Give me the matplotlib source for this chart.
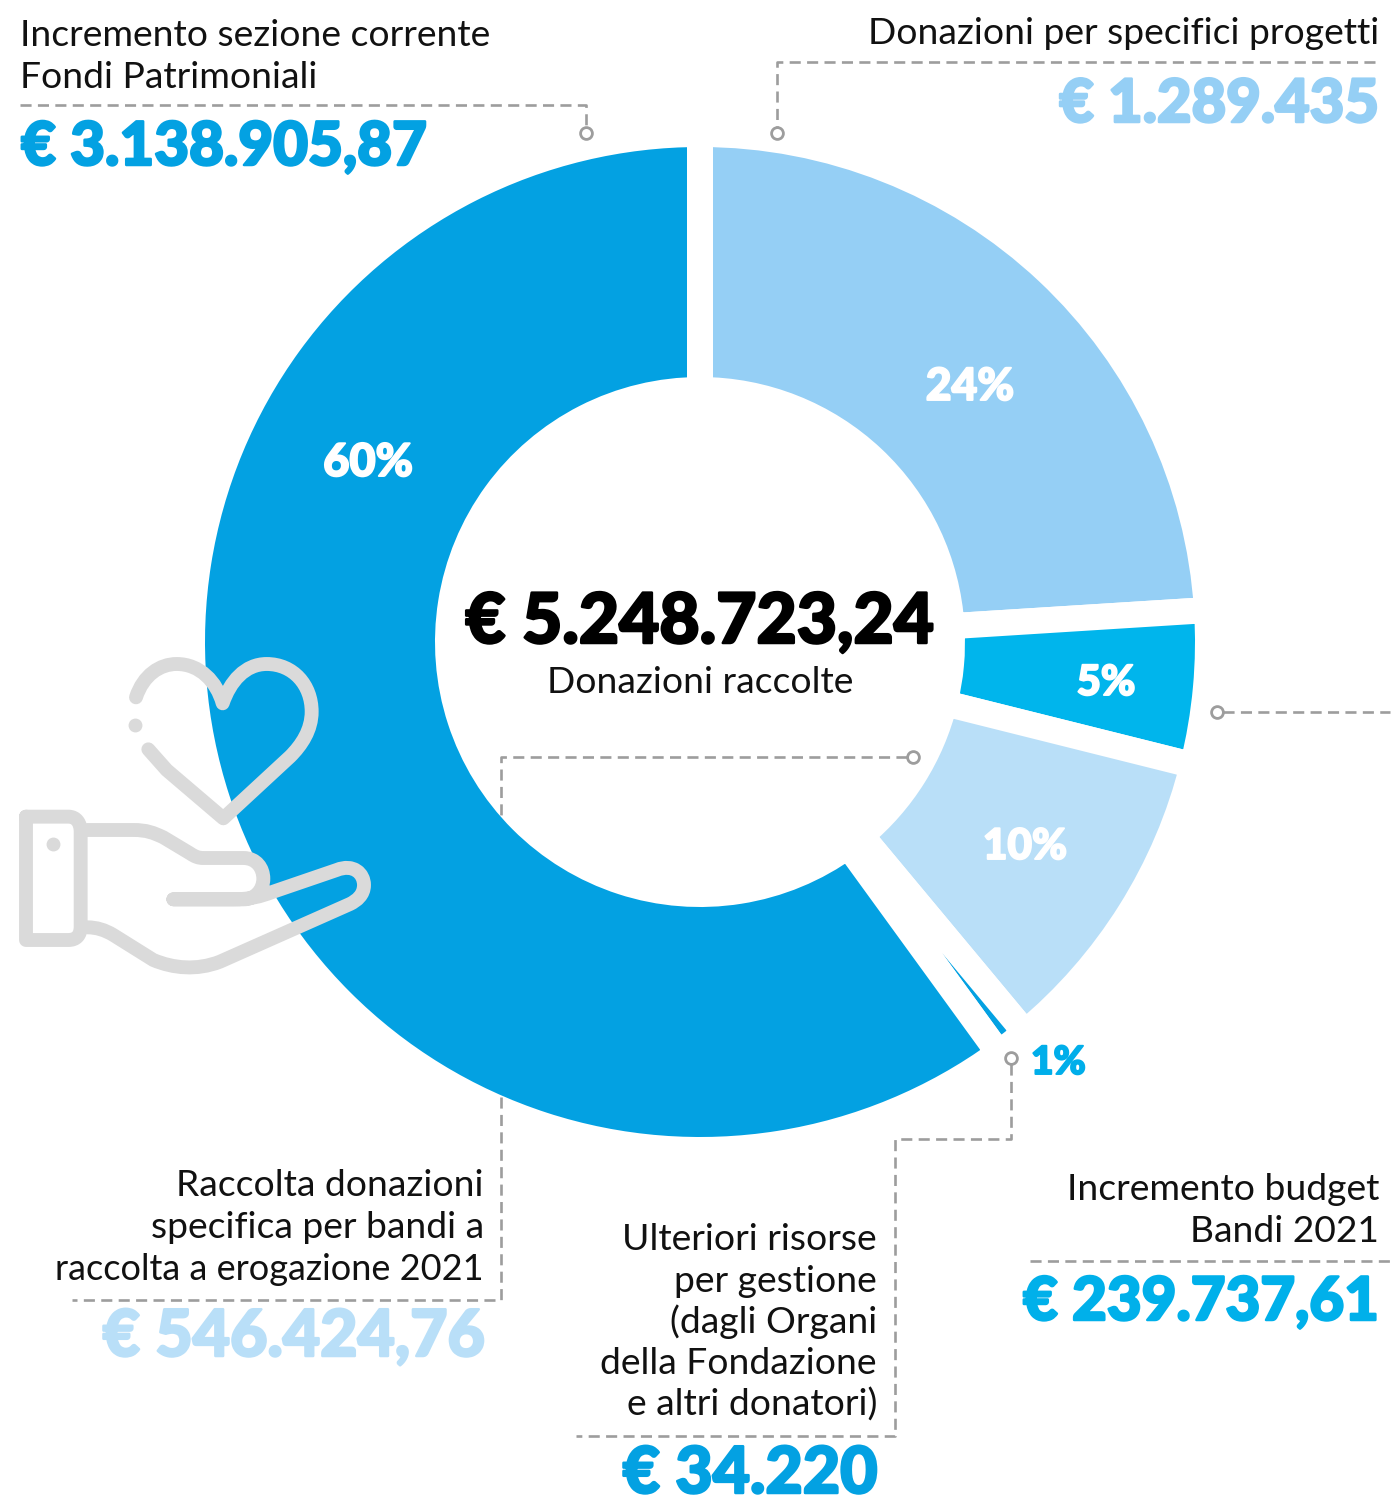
# -*- coding: utf-8 -*-
import matplotlib
matplotlib.use("Agg")
import matplotlib.pyplot as plt
import matplotlib.patheffects as pe
from matplotlib.path import Path
from matplotlib.patches import PathPatch

plt.rcParams['font.family'] = ['Lato', 'DejaVu Sans']

# parts of the ring, clockwise from the top
shares = [24, 4.9, 10.05, 1.05, 60]
share_labels = ["24%", "5%", "10%", "1%", "60%"]
ring_colors = ["#95cff5", "#00b5ec", "#b9dff8", "#03a1e2", "#03a1e2"]

total_text = "€ 5.248.723,24"
total_label = "Donazioni raccolte"
amount_texts = ["€ 3.138.905,87", "€ 1.289.435", "€ 239.737,61", "€ 546.424,76", "€ 34.220"]

GREY = "#9d9d9d"
ICON = "#dadada"
TXT = "#111111"
CX, CY = 700, 642
R_OUT, R_IN = 495, 265
GAP = 26

fig = plt.figure(figsize=(13.92, 14.96), dpi=100)
ax = fig.add_axes([0, 0, 1, 1])

# white edge gives the parallel gaps
ax.pie(shares, radius=R_OUT + GAP / 2, center=(CX, CY), startangle=-90,
       counterclock=True, colors=ring_colors,
       wedgeprops=dict(width=R_OUT - R_IN + GAP, edgecolor="white",
                       linewidth=GAP * 0.72))
ax.set_xlim(0, 1392)
ax.set_ylim(1496, 0)
ax.axis("off")


def leader(xs, ys):
    ax.plot(xs, ys, color=GREY, lw=1.9, dashes=(4.2, 2.4), zorder=5,
            solid_joinstyle="miter", dash_capstyle="butt")


def ring_dot(x, y):
    ax.plot([x], [y], "o", ms=8.5, mfc="white", mec=GREY, mew=2.0, zorder=6)


def body(x, y, s, ha="left", fs=26.8):
    ax.text(x, y, s, ha=ha, va="baseline", fontsize=fs, color=TXT, zorder=7)


# heavy look: Lato bold with a thin outline of the same colour
def heavy(x, y, s, col, ha, fs, lw):
    t = ax.text(x, y, s, ha=ha, va="baseline", fontsize=fs, color=col,
                fontweight="black", zorder=7)
    t.set_path_effects([pe.withStroke(linewidth=lw, foreground=col)])


def big(x, y, s, col, ha="left", fs=43):
    heavy(x, y, s, col, ha, fs, 1.8)


# leader lines
leader([20, 586, 586], [105, 105, 127])
ring_dot(586, 133)
leader([1375, 777, 777], [62, 62, 127])
ring_dot(777, 133)
leader([1223, 1390], [712, 712])
ring_dot(1217, 712)
leader([1030, 1390], [1261, 1261])
leader([1011, 1011, 895, 895, 576], [1064, 1139, 1139, 1436, 1436])
ring_dot(1011, 1058)
leader([907, 501, 501], [757, 757, 815])
ring_dot(913, 757)
leader([501, 501, 72], [1097, 1300, 1300])

# texts
body(20, 46, "Incremento sezione corrente")
body(20, 88, "Fondi Patrimoniali")
big(21, 165, amount_texts[0], "#03a1e2", fs=43.3)

body(1379, 44, "Donazioni per specifici progetti", ha="right")
big(1379, 122, amount_texts[1], "#95cff5", ha="right")

big(CX, 643, total_text, "#000000", ha="center", fs=50)
body(CX, 693, total_label, ha="center")

body(484, 1196, "Raccolta donazioni", ha="right")
body(484, 1238, "specifica per bandi a", ha="right")
body(484, 1280, "raccolta a erogazione 2021", ha="right", fs=26)
big(484, 1356, amount_texts[3], "#b9dff8", ha="right", fs=46.4)

body(1379, 1200, "Incremento budget", ha="right")
body(1379, 1242, "Bandi 2021", ha="right")
big(1379, 1320, amount_texts[2], "#00b0ea", ha="right", fs=43.2)

for i, line in enumerate(["Ulteriori risorse", "per gestione", "(dagli Organi",
                          "della Fondazione", "e altri donatori)"]):
    body(877, 1250 + 41.5 * i, line, ha="right")
big(877, 1493, amount_texts[4], "#03a1e2", ha="right", fs=46.4)

# percent labels
pct_pos = [(970, 400), (1106, 695), (1025, 859), (1031, 1074), (368, 476)]
pct_sizes = [32, 30, 30.5, 28, 32.5]
pct_colors = ["white", "white", "white", "#00aeea", "white"]
for lab, (x, y), sz, col in zip(share_labels, pct_pos, pct_sizes, pct_colors):
    heavy(x, y, lab, col, "left" if lab == "1%" else "center", sz, 1.4)


# icon, points read from a 3x crop starting at (0, 640)
# a step of 1 point is a line, a step of 3 points is a bezier
def icon_path(start, steps):
    verts = [start]
    codes = [Path.MOVETO]
    for st in steps:
        verts += st
        codes += [Path.LINETO] if len(st) == 1 else [Path.CURVE4] * 3
    pts = [(vx / 3, 640 + vy / 3) for vx, vy in verts]
    ax.add_patch(PathPatch(Path(pts, codes), fill=False, edgecolor=ICON, lw=10,
                           capstyle="round", joinstyle="round", zorder=8))


# heart
icon_path((408, 172), [
    [(430, 105), (480, 72), (530, 72)],
    [(600, 72), (650, 125), (668, 190)],
    [(690, 125), (735, 72), (800, 72)],
    [(880, 72), (935, 135), (935, 215)],
    [(935, 270), (905, 315), (870, 350)],
    [(670, 535)],
    [(500, 390)],
    [(445, 328)],
])
# cuff
icon_path((78, 530), [
    [(205, 530)],
    [(230, 530), (242, 550), (242, 575)],
    [(242, 860)],
    [(242, 885), (230, 900), (205, 900)],
    [(78, 900)],
    [(78, 530)],
])
# hand
icon_path((262, 570), [
    [(400, 570)],
    [(440, 570), (460, 578), (490, 592)],
    [(570, 640)],
    [(585, 650), (595, 654), (610, 654)],
    [(730, 654)],
    [(770, 654), (790, 685), (790, 716)],
    [(790, 750), (765, 778), (730, 778)],
    [(520, 778)],
    [(700, 778)],
    [(750, 778), (780, 770), (820, 755)],
    [(1010, 690)],
    [(1060, 670), (1092, 700), (1092, 735)],
    [(1092, 765), (1070, 782), (1050, 792)],
    [(660, 965)],
    [(590, 992), (520, 985), (460, 960)],
    [(340, 885)],
    [(315, 870), (290, 862), (262, 862)],
])
# dots of heart and cuff
ax.plot([405 / 3, 160 / 3], [640 + 254 / 3, 640 + 612 / 3], "o", ms=10,
        color=ICON, mew=0, zorder=8)

fig.savefig("out.png", dpi=100, facecolor="white")
